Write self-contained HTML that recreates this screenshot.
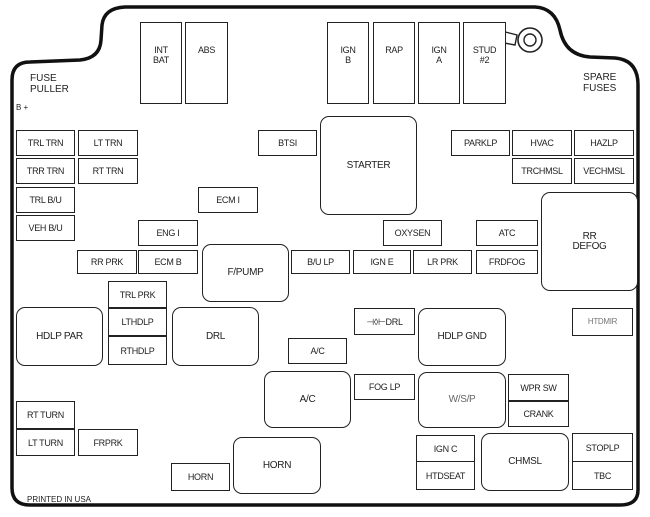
<!DOCTYPE html>
<html><head><style>
body{margin:0;width:650px;height:517px;background:#fff;position:relative;overflow:hidden;font-family:"Liberation Sans",sans-serif;}
.b{position:absolute;border:1.6px solid #222;box-sizing:border-box;font-size:9px;color:#222;display:flex;align-items:center;justify-content:center;text-align:center;line-height:10px;letter-spacing:-0.3px;background:#fff}
.r{border-radius:9px;font-size:10px}
.t{position:absolute;font-size:10px;color:#222;line-height:11px}
.tp{align-items:flex-start;padding-top:22px}
</style></head><body>
<svg width="650" height="517" style="position:absolute;left:0;top:0">
<path d="M12,488 L12,80 Q12,62 30,62 L80,60 Q100,58 101,40 L102,25 Q104,8 125,7 L535,7 Q555,8 560,30 Q565,55 590,57 L615,58 Q638,60 638,85 L638,490 Q638,505 620,505 L30,505 Q12,505 12,488 Z" fill="none" stroke="#111" stroke-width="3.5"/>
<path d="M478,25 L517,35 L515,45 L478,38 Z" fill="#fff" stroke="#222" stroke-width="1.4"/>
<circle cx="530" cy="40" r="12" fill="#fff" stroke="#222" stroke-width="1.6"/>
<circle cx="530" cy="40" r="6" fill="#fff" stroke="#222" stroke-width="1.4"/>
</svg>
<div class="t" style="left:30px;top:73px">FUSE<br>PULLER</div>
<div class="t" style="left:16px;top:102px;font-size:8px">B +</div>
<div class="t" style="left:583px;top:72px;text-align:right">SPARE<br>FUSES</div>
<div class="t" style="left:27px;top:494px;font-size:8px">PRINTED IN USA</div>

<div class="b tp" style="left:140px;top:22px;width:42px;height:82px">INT<br>BAT</div>
<div class="b tp" style="left:185px;top:22px;width:43px;height:82px">ABS</div>
<div class="b tp" style="left:327px;top:22px;width:42px;height:82px">IGN<br>B</div>
<div class="b tp" style="left:373px;top:22px;width:42px;height:82px">RAP</div>
<div class="b tp" style="left:418px;top:22px;width:42px;height:82px">IGN<br>A</div>
<div class="b tp" style="left:463px;top:22px;width:43px;height:82px">STUD<br>#2</div>

<div class="b" style="left:16px;top:130px;width:59px;height:26px">TRL TRN</div>
<div class="b" style="left:78px;top:130px;width:60px;height:26px">LT TRN</div>
<div class="b" style="left:16px;top:158px;width:59px;height:26px">TRR TRN</div>
<div class="b" style="left:78px;top:158px;width:60px;height:26px">RT TRN</div>
<div class="b" style="left:16px;top:187px;width:59px;height:26px">TRL B/U</div>
<div class="b" style="left:16px;top:215px;width:59px;height:26px">VEH B/U</div>
<div class="b" style="left:258px;top:130px;width:59px;height:26px">BTSI</div>
<div class="b r" style="left:320px;top:116px;width:97px;height:99px">STARTER</div>
<div class="b" style="left:198px;top:187px;width:60px;height:26px">ECM I</div>
<div class="b" style="left:138px;top:220px;width:60px;height:26px">ENG I</div>
<div class="b" style="left:77px;top:250px;width:60px;height:24px">RR PRK</div>
<div class="b" style="left:138px;top:250px;width:60px;height:24px">ECM B</div>
<div class="b r" style="left:202px;top:244px;width:87px;height:58px">F/PUMP</div>
<div class="b" style="left:291px;top:250px;width:59px;height:24px">B/U LP</div>
<div class="b" style="left:353px;top:250px;width:58px;height:24px">IGN E</div>
<div class="b" style="left:413px;top:250px;width:59px;height:24px">LR PRK</div>
<div class="b" style="left:476px;top:250px;width:62px;height:24px">FRDFOG</div>
<div class="b" style="left:383px;top:220px;width:59px;height:26px">OXYSEN</div>
<div class="b" style="left:476px;top:220px;width:62px;height:26px">ATC</div>
<div class="b r" style="left:541px;top:192px;width:97px;height:99px">RR<br>DEFOG</div>
<div class="b" style="left:451px;top:130px;width:59px;height:26px">PARKLP</div>
<div class="b" style="left:512px;top:130px;width:60px;height:26px">HVAC</div>
<div class="b" style="left:574px;top:130px;width:60px;height:26px">HAZLP</div>
<div class="b" style="left:512px;top:158px;width:60px;height:26px">TRCHMSL</div>
<div class="b" style="left:574px;top:158px;width:60px;height:26px">VECHMSL</div>

<div class="b" style="left:108px;top:281px;width:59px;height:27px">TRL PRK</div>
<div class="b" style="left:108px;top:308px;width:59px;height:28px">LTHDLP</div>
<div class="b" style="left:108px;top:336px;width:59px;height:29px">RTHDLP</div>
<div class="b r" style="left:16px;top:307px;width:87px;height:59px">HDLP PAR</div>
<div class="b r" style="left:172px;top:307px;width:87px;height:59px">DRL</div>
<div class="b" style="left:288px;top:338px;width:59px;height:26px">A/C</div>
<div class="b r" style="left:264px;top:371px;width:87px;height:57px">A/C</div>
<div class="b" style="left:354px;top:308px;width:61px;height:27px">⊣◊⊢DRL</div>
<div class="b r" style="left:418px;top:308px;width:88px;height:58px">HDLP GND</div>
<div class="b" style="left:572px;top:308px;width:61px;height:28px;color:#777;font-size:8px">HTDMIR</div>
<div class="b" style="left:354px;top:374px;width:61px;height:26px">FOG LP</div>
<div class="b r" style="left:418px;top:372px;width:88px;height:56px;color:#666">W/S/P</div>
<div class="b" style="left:508px;top:374px;width:61px;height:27px">WPR SW</div>
<div class="b" style="left:508px;top:401px;width:61px;height:26px">CRANK</div>
<div class="b" style="left:16px;top:401px;width:59px;height:28px">RT TURN</div>
<div class="b" style="left:16px;top:429px;width:59px;height:27px">LT TURN</div>
<div class="b" style="left:78px;top:429px;width:60px;height:27px">FRPRK</div>
<div class="b" style="left:171px;top:463px;width:59px;height:28px">HORN</div>
<div class="b r" style="left:233px;top:437px;width:88px;height:57px">HORN</div>
<div class="b" style="left:416px;top:435px;width:59px;height:27px">IGN C</div>
<div class="b" style="left:416px;top:461px;width:59px;height:29px">HTDSEAT</div>
<div class="b r" style="left:481px;top:433px;width:88px;height:58px">CHMSL</div>
<div class="b" style="left:572px;top:433px;width:61px;height:29px">STOPLP</div>
<div class="b" style="left:572px;top:461px;width:61px;height:29px">TBC</div>
</body></html>
